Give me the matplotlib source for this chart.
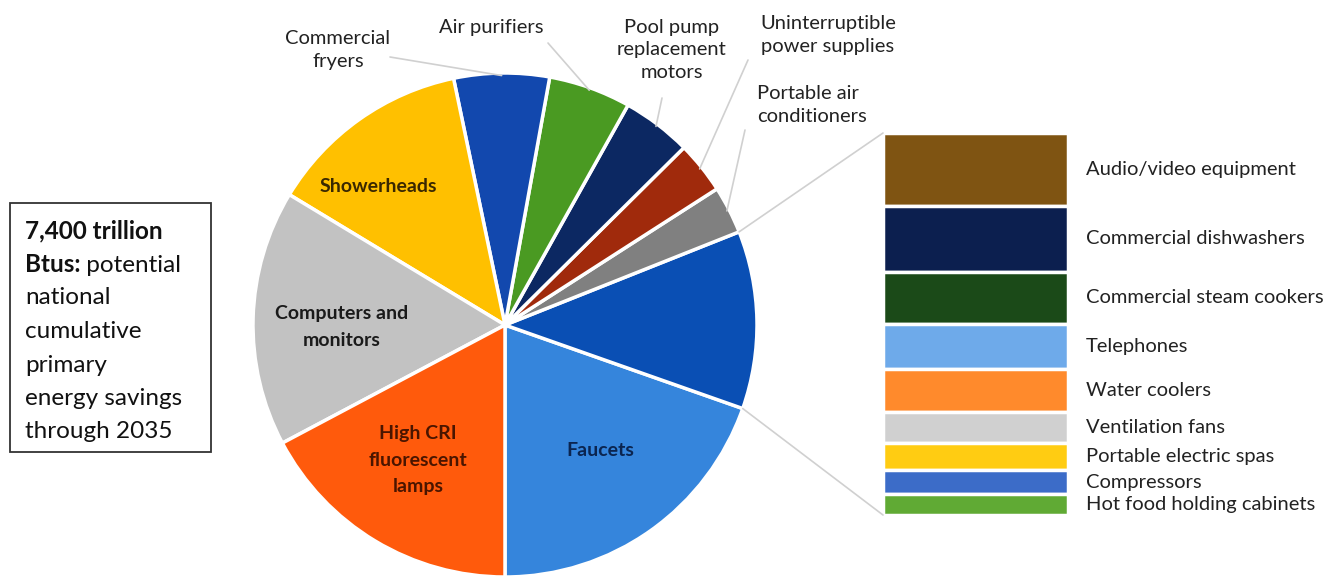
import numpy as np
import matplotlib
matplotlib.use("Agg")
import matplotlib.pyplot as plt
from matplotlib.patches import ConnectionPatch, Rectangle
from matplotlib.transforms import blended_transform_factory

plt.rcParams['font.family'] = ['Lato', 'DejaVu Sans']

# pie slices, trillion Btus (counterclockwise from the bottom)
pie_labels = ["Faucets", "Other", "Portable air\nconditioners", "Uninterruptible\npower supplies",
              "Pool pump\nreplacement\nmotors", "Air purifiers", "Commercial\nfryers",
              "Showerheads", "Computers and\nmonitors", "High CRI\nfluorescent\nlamps"]
pie_values = [1450, 843, 226, 247, 329, 390, 452, 966, 1213, 1274]
pie_colors = ["#3585dc", "#0a4fb4", "#808080", "#a02a0c", "#0c2862", "#4a9a22",
              "#1248ae", "#ffc000", "#c2c2c2", "#ff5a0c"]

# breakdown of "Other" (top to bottom)
bar_labels = ["Audio/video equipment", "Commercial dishwashers", "Commercial steam cookers",
              "Telephones", "Water coolers", "Ventilation fans", "Portable electric spas",
              "Compressors", "Hot food holding cabinets"]
bar_values = [160, 145, 115, 100, 95, 67, 61, 52, 46]
bar_colors = ["#7f5412", "#0c1f4f", "#1b4a18", "#6eaaea", "#ff8a2c", "#d0d0d0",
              "#ffcc12", "#3c6cc8", "#60aa34"]

W, H = 1339, 578
fig = plt.figure(figsize=(W / 100, H / 100), dpi=100)

# overlay in pixel coordinates for free text
ax0 = fig.add_axes([0, 0, 1, 1])
ax0.set_xlim(0, W)
ax0.set_ylim(H, 0)
ax0.axis("off")
ax0.set_zorder(5)

# pie: centre (505, 325), radius 252 px
cx, cy, r = 505, 325, 252
axp = fig.add_axes([(cx - r) / W, (H - cy - r) / H, 2 * r / W, 2 * r / H])
wedges, _ = axp.pie(pie_values, colors=pie_colors, startangle=-90, counterclock=True,
                    wedgeprops=dict(edgecolor="white", linewidth=2.5))
axp.set_xlim(-1, 1)
axp.set_ylim(-1, 1)
axp.set_aspect("equal")

# bar of "Other"
bx0, bw = 883, 185
axb = fig.add_axes([bx0 / W, (H - 515) / H, bw / W, 382 / H])
lab_tr = blended_transform_factory(axb.transAxes, axb.transData)
total = sum(bar_values)
top = total
for lab, v, c in zip(bar_labels, bar_values, bar_colors):
    axb.bar(0, v, bottom=top - v, width=1, color=c, edgecolor="white", linewidth=2.5)
    axb.text((1086 - bx0) / bw, top - v / 2, lab, transform=lab_tr, ha="left", va="center",
             fontsize=14.5, color="#222222", clip_on=False)
    top -= v
axb.set_xlim(-0.5, 0.5)
axb.set_ylim(0, total)
axb.axis("off")

# lines from "Other" slice to bar
w_other = wedges[1]
for ang, yb in [(w_other.theta2, total), (w_other.theta1, 0)]:
    a = np.deg2rad(ang)
    con = ConnectionPatch(xyA=(np.cos(a), np.sin(a)), coordsA=axp.transData,
                          xyB=(-0.5, yb), coordsB=axb.transData,
                          color="#d0d0d0", linewidth=1.2)
    fig.add_artist(con)

# labels inside slices
inside = {0: ((600, 450), "#0b2550"), 7: ((378, 187), "#3a2800"),
          8: ((342, 327), "#1a1a1a"), 9: ((418, 460), "#4a1500")}
for i, ((x, y), col) in inside.items():
    ax0.text(x, y, pie_labels[i], ha="center", va="center", fontsize=14,
             fontweight="bold", color=col, linespacing=1.7)

# outside labels with leader lines
outside = {6: ((338, 50), "center", (390, 57)),
           5: ((491, 28), "center", (548, 43)),
           4: ((672, 50), "center", (662, 98)),
           3: ((828, 35), "center", (748, 60)),
           2: ((757, 105), "left", (745, 130))}
for i, ((x, y), ha, (lx, ly)) in outside.items():
    ax0.text(x, y, pie_labels[i], ha=ha, va="center", fontsize=14.5,
             color="#222222", linespacing=1.4)
    w = wedges[i]
    a = np.deg2rad((w.theta1 + w.theta2) / 2)
    con = ConnectionPatch(xyA=(lx, ly), coordsA=ax0.transData,
                          xyB=(0.99 * np.cos(a), 0.99 * np.sin(a)), coordsB=axp.transData,
                          color="#d0d0d0", linewidth=1.2)
    fig.add_artist(con)

# summary box
fs = 17.5
ax0.add_patch(Rectangle((10, 203), 201, 249, fill=False, edgecolor="#333333", linewidth=1.3))
ax0.text(25, 231, "7,400 trillion", fontsize=fs, fontweight="bold", va="center", color="#111111")
t = ax0.text(25, 265, "Btus:", fontsize=fs, fontweight="bold", va="center", color="#111111")
ax0.annotate(" potential", xycoords=t, xy=(1, 0.5), va="center", fontsize=fs, color="#111111")
for k, line in enumerate(["national", "cumulative", "primary", "energy savings", "through 2035"]):
    ax0.text(25, 298 + 33.5 * k, line, fontsize=fs, va="center", color="#111111")

fig.savefig("out.png", dpi=100)
